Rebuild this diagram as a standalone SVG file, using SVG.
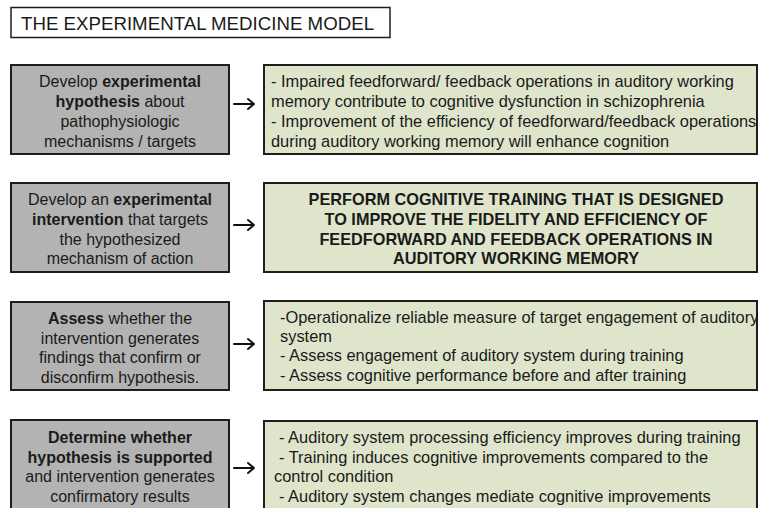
<svg xmlns="http://www.w3.org/2000/svg" width="758" height="508" viewBox="0 0 758 508">
  <style>
    text { font-family: "Liberation Sans", Arial, sans-serif; font-size: 16px; fill: #1a1a1a; }
    .title { font-size: 18.7px; }
    .note { font-size: 16.4px; }
    .head { font-size: 16.3px; font-weight: bold; }
    .step { fill: #b3b3b3; stroke: #1e1e1e; stroke-width: 2; }
    .detail { fill: #dfe5cb; stroke: #1e1e1e; stroke-width: 2; }
    .frame { fill: #ffffff; stroke: #1e1e1e; stroke-width: 1.5; }
    .c { text-anchor: middle; }
    .b { font-weight: bold; }
    .arrow { fill: none; stroke: #111; stroke-width: 2; stroke-linecap: round; stroke-linejoin: round; }
  </style>

  <g id="title">
    <rect class="frame" x="11" y="7.5" width="379" height="30"/>
    <text class="title" x="21" y="30">THE EXPERIMENTAL MEDICINE MODEL</text>
  </g>

  <!-- Row 1: hypothesis -->
  <g id="step-hypothesis">
    <rect class="step" x="11" y="65" width="218" height="89"/>
    <text class="c" x="120" y="87">Develop <tspan class="b">experimental</tspan></text>
    <text class="c" x="120" y="107"><tspan class="b">hypothesis</tspan> about</text>
    <text class="c" x="120" y="127">pathophysiologic</text>
    <text class="c" x="120" y="147">mechanisms / targets</text>
  </g>
  <g id="detail-hypothesis">
    <rect class="detail" x="264" y="65" width="493" height="89"/>
    <text class="note" x="271" y="87">- Impaired feedforward/ feedback operations in auditory working</text>
    <text class="note" x="271" y="107">memory contribute to cognitive dysfunction in schizophrenia</text>
    <text class="note" x="271" y="127">- Improvement of the efficiency of feedforward/feedback operations</text>
    <text class="note" x="271" y="147">during auditory working memory will enhance cognition</text>
  </g>

  <!-- Row 2: intervention -->
  <g id="step-intervention">
    <rect class="step" x="11" y="183" width="218" height="89"/>
    <text class="c" x="120" y="205">Develop an <tspan class="b">experimental</tspan></text>
    <text class="c" x="120" y="225"><tspan class="b">intervention</tspan> that targets</text>
    <text class="c" x="120" y="245">the hypothesized</text>
    <text class="c" x="120" y="264">mechanism of action</text>
  </g>
  <g id="detail-intervention">
    <rect class="detail" x="264" y="183" width="493" height="89"/>
    <text class="c head" x="516" y="205">PERFORM COGNITIVE TRAINING THAT IS DESIGNED</text>
    <text class="c head" x="516" y="225">TO IMPROVE THE FIDELITY AND EFFICIENCY OF</text>
    <text class="c head" x="516" y="245">FEEDFORWARD AND FEEDBACK OPERATIONS IN</text>
    <text class="c head" x="516" y="264">AUDITORY WORKING MEMORY</text>
  </g>

  <!-- Row 3: assessment -->
  <g id="step-assess">
    <rect class="step" x="11" y="302" width="218" height="88"/>
    <text class="c" x="120" y="324"><tspan class="b">Assess</tspan> whether the</text>
    <text class="c" x="120" y="344">intervention generates</text>
    <text class="c" x="120" y="363">findings that confirm or</text>
    <text class="c" x="120" y="383">disconfirm hypothesis.</text>
  </g>
  <g id="detail-assess">
    <rect class="detail" x="264" y="301" width="493" height="89"/>
    <text class="note" x="280" y="323">-Operationalize reliable measure of target engagement of auditory</text>
    <text class="note" x="280" y="342">system</text>
    <text class="note" x="280" y="361">- Assess engagement of auditory system during training</text>
    <text class="note" x="280" y="381">- Assess cognitive performance before and after training</text>
  </g>

  <!-- Row 4: determination -->
  <g id="step-determine">
    <rect class="step" x="11" y="420" width="218" height="95"/>
    <text class="c b" x="120" y="443">Determine whether</text>
    <text class="c b" x="120" y="463">hypothesis is supported</text>
    <text class="c" x="120" y="482">and intervention generates</text>
    <text class="c" x="120" y="502">confirmatory results</text>
  </g>
  <g id="detail-determine">
    <rect class="detail" x="264" y="421" width="493" height="95"/>
    <text class="note" x="279" y="443">- Auditory system processing efficiency improves during training</text>
    <text class="note" x="279" y="463">- Training induces cognitive improvements compared to the</text>
    <text class="note" x="274" y="482">control condition</text>
    <text class="note" x="279" y="502">- Auditory system changes mediate cognitive improvements</text>
  </g>

  <!-- Step-to-detail arrows -->
  <g id="connectors">
    <path class="arrow" d="M234 104 H254 M248 99 L254 104 L248 109"/>
    <path class="arrow" d="M234 225 H254 M248 220 L254 225 L248 230"/>
    <path class="arrow" d="M234 344 H254 M248 339 L254 344 L248 349"/>
    <path class="arrow" d="M234 468 H254 M248 463 L254 468 L248 473"/>
  </g>
</svg>
